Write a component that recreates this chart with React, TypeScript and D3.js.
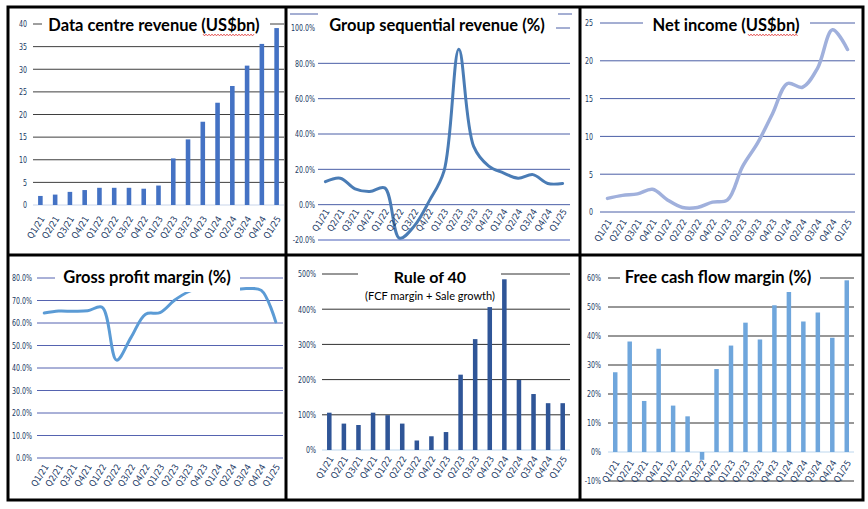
import React from 'react';
import * as d3 from 'd3';

const quarters = [
  'Q1/21', 'Q2/21', 'Q3/21', 'Q4/21',
  'Q1/22', 'Q2/22', 'Q3/22', 'Q4/22',
  'Q1/23', 'Q2/23', 'Q3/23', 'Q4/23',
  'Q1/24', 'Q2/24', 'Q3/24', 'Q4/24',
  'Q1/25',
];

// values
const dataCentreRevenue = [2.0, 2.3, 2.9, 3.3, 3.8, 3.8, 3.8, 3.6, 4.3, 10.3, 14.5, 18.4, 22.6, 26.3, 30.8, 35.6, 39.1];
const sequentialRevenue = [13, 15, 9, 7.5, 9.5, -19, -12, 2, 19, 88, 33, 22, 18, 15, 17, 12, 12];
const netIncome = [1.8, 2.2, 2.4, 3.0, 1.6, 0.6, 0.6, 1.3, 1.6, 6.0, 9.1, 13.0, 17.0, 16.5, 19.0, 24.1, 21.5];
const grossMargin = [64.4, 65.3, 65.2, 65.4, 67.0, 43.5, 53.6, 63.9, 64.6, 70.1, 74.0, 76.0, 78.4, 75.1, 75.3, 74.5, 60.5];
const ruleOf40 = [106, 75, 71, 106, 99, 75, 27, 39, 51, 214, 315, 406, 485, 199, 159, 133, 133];
const fcfMargin = [27.5, 38.1, 17.6, 35.6, 16.0, 12.3, -2.7, 28.6, 36.7, 44.6, 38.8, 50.6, 56.3, 45.0, 48.1, 39.4, 59.2];

const revenueTicks = [0, 5, 10, 15, 20, 25, 30, 35, 40];
const sequentialTicks = [-20, 0, 20, 40, 60, 80, 100];
const incomeTicks = [0, 5, 10, 15, 20, 25];
const marginTicks = [0, 10, 20, 30, 40, 50, 60, 70, 80];
const ruleTicks = [0, 100, 200, 300, 400, 500];
const fcfTicks = [-10, 0, 10, 20, 30, 40, 50, 60];

type Panel = {
  kind: 'bar' | 'line';
  values: number[];
  ticks: number[];
  fmt: (v: number) => string;
  x0: number;
  x1: number;
  domain: [number, number];
  yBottom: number;
  yTop: number;
  labelX: number;
  labelDy: number;
  title: string;
  titleX: number;
  titleY: number;
  titleSize: number;
  subtitle?: string;
  box: [number, number, number, number];
  grid: string;
  zero: string;
  bottom?: string;
  color: string;
  width?: number;
  wavy?: [number, number, number];
};

const pct1 = (v: number) => `${v.toFixed(1)}%`;
const pct0 = (v: number) => `${v}%`;

const panels: Panel[] = [
  {
    kind: 'bar', values: dataCentreRevenue, ticks: revenueTicks, fmt: (v) => `${v}`,
    x0: 33, x1: 284, domain: [0, 40], yBottom: 205, yTop: 24, labelX: 27, labelDy: 12,
    title: 'Data centre revenue (US$bn)', titleX: 154, titleY: 31, titleSize: 16.5,
    box: [42, 12, 270, 38], grid: '#3f3f3f', zero: '#c9d5ea', color: '#4472c4',
    wavy: [203, 255, 35],
  },
  {
    kind: 'line', values: sequentialRevenue, ticks: sequentialTicks, fmt: pct1,
    x0: 318, x1: 570, domain: [-20, 100], yBottom: 240, yTop: 28, labelX: 315, labelDy: 5,
    title: 'Group sequential revenue (%)', titleX: 437, titleY: 31, titleSize: 16.5,
    box: [318, 16, 556, 38], grid: '#4a5ea6', zero: '#4a5ea6', bottom: '#a3aedc',
    color: '#4a7cb5', width: 3,
  },
  {
    kind: 'line', values: netIncome, ticks: incomeTicks, fmt: (v) => `${v}`,
    x0: 600, x1: 855, domain: [0, 25], yBottom: 212, yTop: 23, labelX: 593, labelDy: 8,
    title: 'Net income (US$bn)', titleX: 726, titleY: 31, titleSize: 16.5,
    box: [643, 12, 810, 38], grid: '#4a5ea6', zero: '#4a5ea6', color: '#a0b0dc', width: 3.5,
    wavy: [748, 798, 35],
  },
  {
    kind: 'line', values: grossMargin, ticks: marginTicks, fmt: pct1,
    x0: 37, x1: 283, domain: [0, 80], yBottom: 458, yTop: 278, labelX: 32, labelDy: 7,
    title: 'Gross profit margin (%)', titleX: 147, titleY: 283, titleSize: 16.5,
    box: [55, 262, 240, 292], grid: '#5563b0', zero: '#5563b0', color: '#5b9bd5', width: 3,
  },
  {
    kind: 'bar', values: ruleOf40, ticks: ruleTicks, fmt: pct0,
    x0: 322, x1: 570, domain: [0, 500], yBottom: 450, yTop: 274, labelX: 316, labelDy: 7,
    title: 'Rule of 40', titleX: 430, titleY: 283, titleSize: 16,
    subtitle: '(FCF margin + Sale growth)',
    box: [358, 262, 501, 303], grid: '#303030', zero: '#bdd7ee', color: '#2f5597',
  },
  {
    kind: 'bar', values: fcfMargin, ticks: fcfTicks, fmt: pct0,
    x0: 608, x1: 854, domain: [-10, 60], yBottom: 481, yTop: 278, labelX: 601, labelDy: 9,
    title: 'Free cash flow margin (%)', titleX: 718, titleY: 283, titleSize: 16.5,
    box: [620, 262, 820, 292], grid: '#303030', zero: '#bdd7ee', color: '#6fa6dc',
  },
];

const axisFont = "'Liberation Sans Narrow', 'DejaVu Sans Condensed', 'Arial Narrow', sans-serif";
const titleFont = "Lato, 'Open Sans', sans-serif";
const tickColor = '#203864';

function wavyPath(x0: number, x1: number, y: number) {
  const pts: [number, number][] = [];
  let up = true;
  for (let x = x0; x <= x1; x += 1.5) {
    pts.push([x, up ? y - 0.9 : y + 0.9]);
    up = !up;
  }
  return d3.line()(pts) || '';
}

function ChartPanel({ s }: { s: Panel }) {
  const x = d3.scalePoint<string>().domain(quarters).range([s.x0, s.x1]).padding(0.5);
  const y = d3.scaleLinear().domain(s.domain).range([s.yBottom, s.yTop]);
  const bw = x.step() * 0.31;
  const base = y(0);
  const line = d3
    .line<number>()
    .x((_, i) => x(quarters[i])!)
    .y((d) => y(d))
    .curve(d3.curveCatmullRom.alpha(0.5));

  return (
    <g>
      {s.ticks.map((t) => {
        let stroke = s.grid;
        let sw = 1;
        if (t === 0) stroke = s.zero;
        if (s.bottom && t === s.domain[0]) {
          stroke = s.bottom;
          sw = 2;
        }
        return (
          <g key={t}>
            <line x1={s.x0} x2={s.x1} y1={y(t)} y2={y(t)} stroke={stroke} strokeWidth={sw} />
            <text
              transform={`translate(${s.labelX},${y(t)}) scale(0.74,1)`}
              dy="0.35em"
              textAnchor="end"
              fontFamily={axisFont}
              fontSize={9.5}
              fill={tickColor}
            >
              {s.fmt(t)}
            </text>
          </g>
        );
      })}

      {s.kind === 'bar' &&
        s.values.map((v, i) => (
          <rect
            key={quarters[i]}
            x={x(quarters[i])! - bw / 2}
            y={Math.min(y(v), base)}
            width={bw}
            height={Math.abs(y(v) - base)}
            fill={s.color}
          />
        ))}

      {s.kind === 'line' && (
        <path
          d={line(s.values) || ''}
          fill="none"
          stroke={s.color}
          strokeWidth={s.width}
          strokeLinecap="round"
          strokeLinejoin="round"
        />
      )}

      {quarters.map((q) => {
        const lx = x(q)! + 2;
        const ly = base + s.labelDy;
        return (
          <text
            key={q}
            x={lx}
            y={ly}
            dy="0.35em"
            textAnchor="end"
            transform={`rotate(-58,${lx},${ly})`}
            fontFamily={axisFont}
            fontSize={9}
            fill={tickColor}
          >
            {q}
          </text>
        );
      })}

      <rect
        x={s.box[0]}
        y={s.box[1]}
        width={s.box[2] - s.box[0]}
        height={s.box[3] - s.box[1]}
        fill="#fff"
      />
      <text
        x={s.titleX}
        y={s.titleY}
        textAnchor="middle"
        fontFamily={titleFont}
        fontWeight={700}
        fontSize={s.titleSize}
        fill="#000"
      >
        {s.title}
      </text>
      {s.subtitle && (
        <text
          x={s.titleX}
          y={s.titleY + 17}
          textAnchor="middle"
          fontFamily={titleFont}
          fontSize={11}
          fill="#000"
        >
          {s.subtitle}
        </text>
      )}
      {s.wavy && (
        <path d={wavyPath(s.wavy[0], s.wavy[1], s.wavy[2])} fill="none" stroke="#e03030" strokeWidth={0.8} />
      )}
    </g>
  );
}

export default function App() {
  return (
    <svg
      width={868}
      height={509}
      style={{ position: 'absolute', left: 0, top: 0, background: '#fff' }}
    >
      <rect x={0} y={0} width={868} height={509} fill="#fff" />
      {panels.map((p) => (
        <ChartPanel key={p.title} s={p} />
      ))}
      {/* short stray rule lines above the sequential revenue chart */}
      <line x1={290} x2={318} y1={14} y2={14} stroke="#4a5ea6" strokeWidth={1} />
      <line x1={558} x2={572} y1={14} y2={14} stroke="#4a5ea6" strokeWidth={1} />

      {/* panel frame */}
      <g stroke="#000" strokeWidth={3} fill="none">
        <rect x={8} y={7} width={855} height={493} />
        <line x1={286} x2={286} y1={7} y2={500} />
        <line x1={580} x2={580} y1={7} y2={500} />
        <line x1={8} x2={863} y1={255} y2={255} />
      </g>
    </svg>
  );
}
